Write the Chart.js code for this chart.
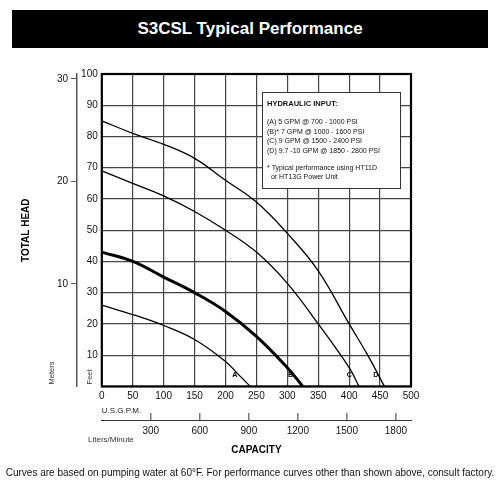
<!DOCTYPE html>
<html><head><meta charset="utf-8">
<script src="https://cdn.jsdelivr.net/npm/chart.js@4"></script>
<style>
body{margin:0;width:500px;height:500px;position:relative;background:#fff;font-family:"Liberation Sans",Arial,sans-serif;overflow:hidden}
#title{position:absolute;left:12px;top:10px;width:476px;height:38px;background:#000;color:#fff;font-weight:bold;font-size:17px;line-height:38px;text-align:center}
#foot{position:absolute;left:0;width:500px;top:467px;text-align:center;font-size:10px;color:#111}
#wrap{position:absolute;left:0;top:0;width:500px;height:500px}
</style></head><body>
<div id="wrap"><canvas id="c" width="500" height="500"></canvas></div>
<div id="title">S3CSL Typical Performance</div>
<div id="foot">Curves are based on pumping water at 60°F. For performance curves other than shown above, consult factory.</div>
<script>
const gpmA=[0,50,100,150,200,220,240];
const headA=[26,23,19.5,15,8,4,0];
const gpmB=[0,50,100,150,200,250,300,325];
const headB=[43,40,35,30,24,16,6,0];
const gpmC=[0,50,100,150,200,250,300,350,400,416];
const headC=[69,65,61,56,50,43,33,20,6,0];
const gpmD=[0,50,100,150,200,250,300,350,400,430,457];
const headD=[85,81,77.5,73,66,59,49,37,20,10,0];
const curveLabels=['A','B','C','D'];
const labelGpm=[215,305,400,443];
const gpmTicks=[0,50,100,150,200,250,300,350,400,450,500];
const lpmTicks=[300,600,900,1200,1500,1800];
const meterTicks=[10,20,30];
const legendLines=['(A) 5 GPM @ 700 - 1000 PSI','(B)* 7 GPM @ 1000 - 1600 PSI','(C) 9 GPM @ 1500 - 2400 PSI','(D) 9.7 -10 GPM @ 1850 - 2800 PSI'];
const noteLines=['* Typical performance using HT11D','  or HT13G Power Unit'];

const pts=(xs,ys)=>xs.map((x,i)=>({x,y:ys[i]}));
const ds=(xs,ys,w)=>({data:pts(xs,ys),showLine:true,borderColor:'#000',borderWidth:w,pointRadius:0,tension:0.4,fill:false});
const F='"Liberation Sans", Arial, sans-serif';

const extras={id:'extras',afterDraw(ch){
  const c=ch.ctx,a=ch.chartArea,x=ch.scales.x,y=ch.scales.y,x2=ch.scales.x2;
  c.save();
  c.strokeStyle='#000';c.lineWidth=2.2;c.strokeRect(a.left,a.top,a.right-a.left,a.bottom-a.top);
  c.fillStyle='#000';c.font='bold 7px '+F;c.textAlign='center';c.textBaseline='middle';
  curveLabels.forEach((t,i)=>c.fillText(t,x.getPixelForValue(labelGpm[i]),y.getPixelForValue(3.5)));
  c.fillStyle='#fff';c.fillRect(262,92,138,96);c.strokeStyle='#333';c.lineWidth=1;c.strokeRect(262.5,92.5,138,96);
  c.fillStyle='#111';c.textAlign='left';c.textBaseline='alphabetic';
  c.font='bold 7.5px '+F;c.fillText('HYDRAULIC INPUT:',267,106);
  c.font='7px '+F;legendLines.forEach((t,i)=>c.fillText(t,267,124+i*9.5));
  noteLines.forEach((t,i)=>c.fillText(t,267,170+i*9));
  c.strokeStyle='#333';c.lineWidth=1;
  lpmTicks.forEach(v=>{const px=x2.getPixelForValue(v);c.beginPath();c.moveTo(px,x2.top);c.lineTo(px,x2.top-7);c.stroke();});
  c.font='8px '+F;c.fillStyle='#333';c.textAlign='left';c.fillText('Liters/Minute',88,442);
  c.font='7.5px '+F;
  c.translate(54,a.bottom-2);c.rotate(-Math.PI/2);c.fillText('Meters',0,0);c.restore();
  c.save();c.font='7.5px '+F;c.fillStyle='#333';c.translate(92,a.bottom-2);c.rotate(-Math.PI/2);c.fillText('Feet',0,0);
  c.restore();
}};

new Chart(document.getElementById('c'),{
  type:'scatter',
  data:{datasets:[ds(gpmA,headA,1.3),ds(gpmB,headB,3),ds(gpmC,headC,1.3),ds(gpmD,headD,1.3)]},
  plugins:[extras],
  options:{responsive:false,animation:false,
    layout:{padding:{left:16,top:74,right:89,bottom:40}},
    plugins:{legend:{display:false},tooltip:{enabled:false}},
    scales:{
      x:{type:'linear',position:'bottom',min:0,max:500,weight:0,
        afterBuildTicks:s=>{s.ticks=gpmTicks.map(v=>({value:v}));},
        grid:{color:'#444',lineWidth:1.2,drawTicks:false},border:{display:false},
        ticks:{color:'#111',font:{size:10,family:F},padding:4},
        title:{display:true,text:'U.S.G.P.M.',align:'start',color:'#222',font:{size:8,family:F},padding:{top:0,bottom:4}}},
      x2:{type:'linear',position:'bottom',min:0,max:500*3.785,weight:1,
        afterBuildTicks:s=>{s.ticks=lpmTicks.map(v=>({value:v}));},
        grid:{drawOnChartArea:false,drawTicks:false},border:{display:true,color:'#333',width:1},
        ticks:{color:'#111',font:{size:10,family:F},padding:5,callback:v=>String(v)},
        title:{display:true,text:'CAPACITY',color:'#000',font:{size:10,weight:'bold',family:F},padding:{top:2}}},
      y:{type:'linear',position:'left',min:0,max:100,weight:0,
        afterBuildTicks:s=>{s.ticks=[0,10,20,30,40,50,60,70,80,90,100].map(v=>({value:v}));},
        grid:{color:'#444',lineWidth:1.2,drawTicks:false},border:{display:false},
        ticks:{color:'#111',font:{size:10,family:F},padding:4,callback:v=>v===0?'':v}},
      y2:{type:'linear',position:'left',min:0,max:100/3.281,weight:1,
        afterBuildTicks:s=>{s.ticks=meterTicks.map(v=>({value:v}));},
        grid:{drawOnChartArea:false,tickLength:6,color:'#555'},border:{display:true,color:'#555',width:1.5},
        ticks:{color:'#111',font:{size:10,family:F},padding:3},
        title:{display:true,text:'TOTAL HEAD',color:'#000',font:{size:10,weight:'bold',family:F},padding:{bottom:8}},
        afterFit:s=>{s.width+=14;}}
    }}
});
</script></body></html>
